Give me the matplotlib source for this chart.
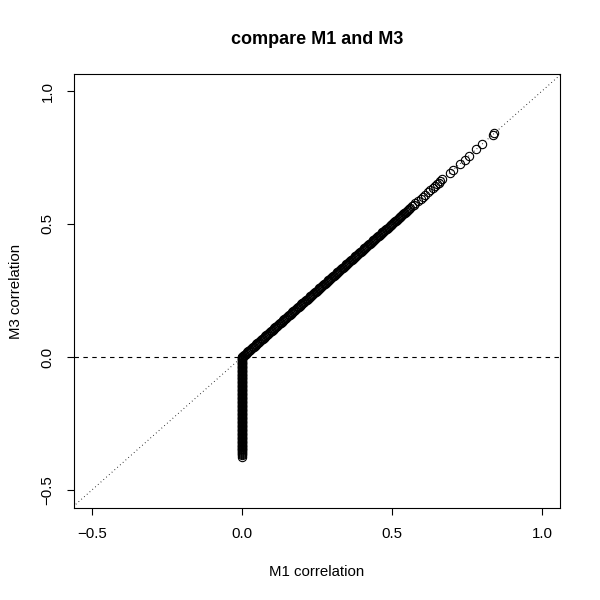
import matplotlib
matplotlib.use("Agg")
import matplotlib.pyplot as plt

plt.rcParams['font.family'] = ['Liberation Sans', 'DejaVu Sans']

# points on the diagonal (M3 == M1)
m1_diag = [
    0.000, 0.003, 0.006, 0.009, 0.012, 0.015, 0.018, 0.021, 0.024, 0.027,
    0.030, 0.033, 0.036, 0.039, 0.042, 0.045, 0.048, 0.051, 0.054, 0.057,
    0.060, 0.063, 0.066, 0.069, 0.072, 0.075, 0.078, 0.081, 0.084, 0.087,
    0.090, 0.093, 0.096, 0.099, 0.102, 0.105, 0.108, 0.111, 0.114, 0.117,
    0.120, 0.123, 0.126, 0.129, 0.132, 0.135, 0.138, 0.141, 0.144, 0.147,
    0.150, 0.153, 0.156, 0.159, 0.162, 0.165, 0.168, 0.171, 0.174, 0.177,
    0.180, 0.183, 0.186, 0.189, 0.192, 0.195, 0.198, 0.201, 0.204, 0.207,
    0.210, 0.213, 0.216, 0.219, 0.222, 0.225, 0.228, 0.231, 0.234, 0.237,
    0.240, 0.243, 0.246, 0.249, 0.252, 0.255, 0.258, 0.261, 0.264, 0.267,
    0.270, 0.273, 0.276, 0.279, 0.282, 0.285, 0.288, 0.291, 0.294, 0.297,
    0.300, 0.303, 0.306, 0.309, 0.312, 0.315, 0.318, 0.321, 0.324, 0.327,
    0.330, 0.333, 0.336, 0.339, 0.342, 0.345, 0.348, 0.351, 0.354, 0.357,
    0.360, 0.363, 0.366, 0.369, 0.372, 0.375, 0.378, 0.381, 0.384, 0.387,
    0.390, 0.393, 0.396, 0.399, 0.402, 0.405, 0.408, 0.411, 0.414, 0.417,
    0.420, 0.423, 0.426, 0.429, 0.432, 0.435, 0.438, 0.441, 0.444, 0.447,
    0.450, 0.453, 0.456, 0.459, 0.462, 0.465, 0.468, 0.471, 0.474, 0.477,
    0.480, 0.483, 0.486, 0.489, 0.492, 0.495, 0.498, 0.501, 0.504, 0.507,
    0.510, 0.513, 0.516, 0.519, 0.522, 0.525, 0.528, 0.531, 0.534, 0.537,
    0.540, 0.543, 0.546, 0.549, 0.553, 0.557, 0.561, 0.566, 0.572, 0.578,
    0.585, 0.595, 0.603, 0.61, 0.62, 0.628, 0.635, 0.642, 0.65, 0.655,
    0.66, 0.668, 0.692, 0.702, 0.725, 0.742, 0.755, 0.781, 0.801, 0.835,
    0.841,
]
m3_diag = list(m1_diag)

# points with M1 == 0 and negative M3
m3_tail = [
    0.000, -0.003, -0.006, -0.009, -0.012, -0.015, -0.018, -0.021, -0.024, -0.027,
    -0.030, -0.033, -0.036, -0.039, -0.042, -0.045, -0.048, -0.051, -0.054, -0.057,
    -0.060, -0.063, -0.066, -0.069, -0.072, -0.075, -0.078, -0.081, -0.084, -0.087,
    -0.090, -0.093, -0.096, -0.099, -0.102, -0.105, -0.108, -0.111, -0.114, -0.117,
    -0.120, -0.123, -0.126, -0.129, -0.132, -0.135, -0.138, -0.141, -0.144, -0.147,
    -0.150, -0.153, -0.156, -0.159, -0.162, -0.165, -0.168, -0.171, -0.174, -0.177,
    -0.180, -0.183, -0.186, -0.189, -0.192, -0.195, -0.198, -0.201, -0.204, -0.207,
    -0.210, -0.213, -0.216, -0.219, -0.222, -0.225, -0.228, -0.231, -0.234, -0.237,
    -0.240, -0.243, -0.246, -0.249, -0.252, -0.255, -0.258, -0.261, -0.264, -0.267,
    -0.270, -0.273, -0.276, -0.279, -0.282, -0.285, -0.288, -0.291, -0.294, -0.297,
    -0.300, -0.303, -0.306, -0.309, -0.312, -0.315, -0.318, -0.321, -0.324, -0.327,
    -0.330, -0.333, -0.336, -0.339, -0.342, -0.345, -0.348, -0.351, -0.354, -0.357,
    -0.360, -0.365, -0.370, -0.376,
]
m1_tail = [0.0] * len(m3_tail)

m1 = m1_diag + m1_tail
m3 = m3_diag + m3_tail

fig = plt.figure(figsize=(6, 6), dpi=100)
ax = fig.add_axes([74 / 600, 92 / 600, 486 / 600, 434 / 600])

ax.plot(m1, m3, 'o', mfc='none', mec='black', ms=6.0, mew=0.8)
ax.axhline(0, color='black', ls=(0, (4, 4)), lw=0.8)
ax.plot([-0.6, 1.1], [-0.6, 1.1], color='black', ls=(0, (0.8, 3)), lw=0.7)

ax.set_xlim(-0.56, 1.06)
ax.set_ylim(-0.568, 1.064)
ticks = [-0.5, 0.0, 0.5, 1.0]
ax.set_xticks(ticks)
ax.set_yticks(ticks)
ax.set_xticklabels(['\u22120.5', '0.0', '0.5', '1.0'])
ax.set_yticklabels(['\u22120.5', '0.0', '0.5', '1.0'], rotation=90, va='center')
ax.tick_params(length=5, width=0.8, labelsize=10.8, pad=9)
for s in ax.spines.values():
    s.set_linewidth(0.8)

fig.text(317 / 600, 1 - 572 / 600, 'M1 correlation', fontsize=10.8,
         ha='center', va='center')
fig.text(16 / 600, 1 - 291 / 600, 'M3 correlation', fontsize=10.8,
         ha='center', va='center', rotation=90)
fig.text(317 / 600, 1 - 40 / 600, 'compare M1 and M3', fontsize=13,
         fontweight='bold', ha='center', va='center')

fig.savefig('out.png', dpi=100)
